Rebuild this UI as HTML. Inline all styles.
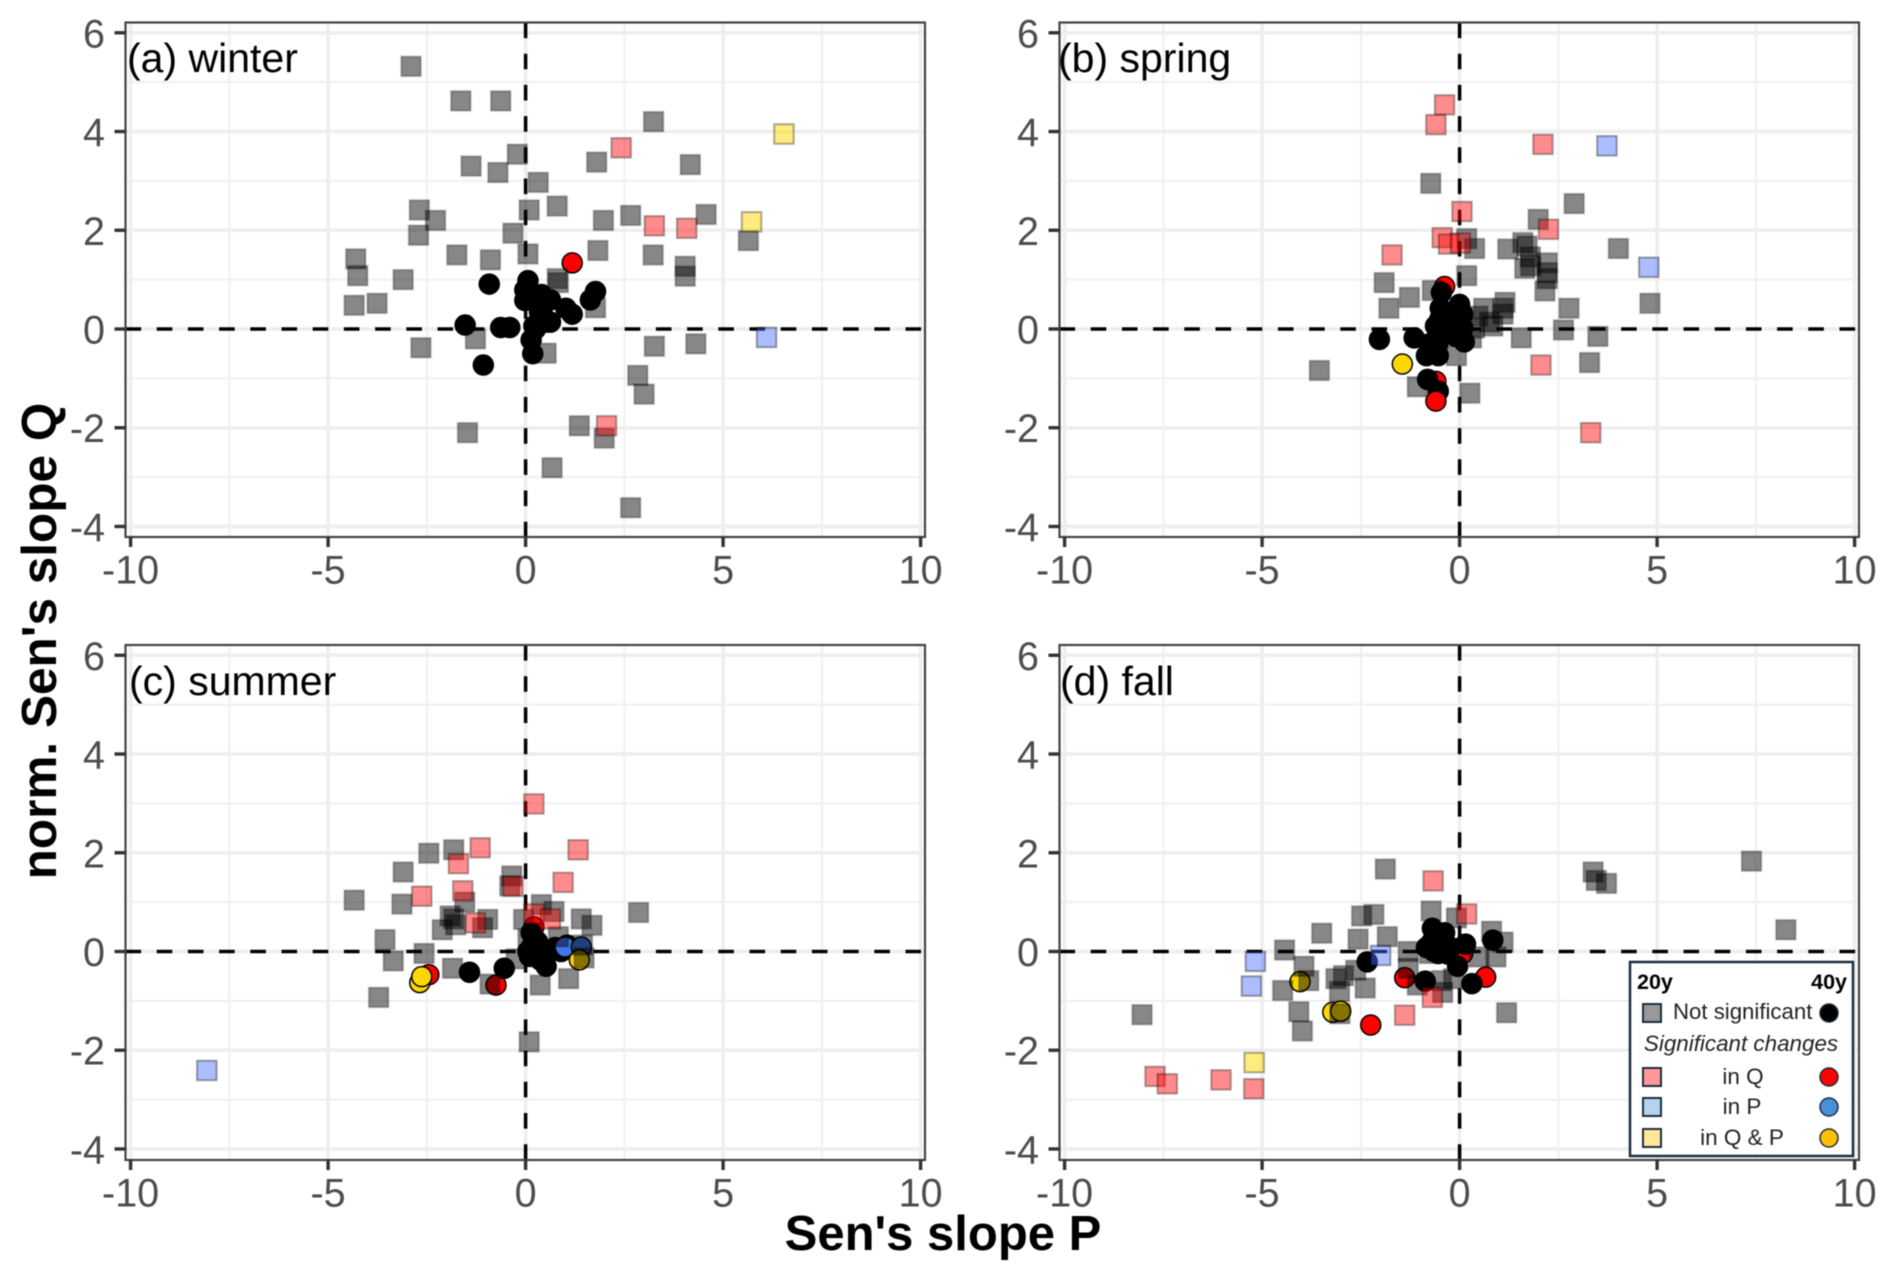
<!DOCTYPE html>
<html lang="en">
<head>
<meta charset="utf-8">
<title>Sen's slope scatter panels</title>
<style>
html,body{margin:0;padding:0;background:#fff;}
svg{display:block;font-family:"Liberation Sans",Arial,sans-serif;filter:blur(0.5px);}
</style>
</head>
<body>
<svg id="chart" xmlns="http://www.w3.org/2000/svg" width="1892" height="1279" viewBox="0 0 1892 1279">
  <rect x="0" y="0" width="1892" height="1279" fill="#fff"/>
  <g id="panels"></g>
  <text transform="translate(56,641) rotate(-90)" text-anchor="middle" font-size="49.5" font-weight="bold" fill="#000">norm. Sen's slope Q</text>
  <text x="943" y="1250" text-anchor="middle" font-size="49" font-weight="bold" fill="#000">Sen's slope P</text>
  <g>
    <rect x="1630" y="962" width="223" height="194" fill="#fff" stroke="#1c2e3e" stroke-width="2.5"/>
    <text x="1637" y="989" font-size="21.5" font-weight="bold">20y</text>
    <text x="1847" y="989" text-anchor="end" font-size="21.5" font-weight="bold">40y</text>
    <rect x="1643" y="1004" width="18" height="18" fill="#999" stroke="#1c2e3e" stroke-width="2"/>
    <text x="1673" y="1019" font-size="22.2" fill="#222">Not significant</text>
    <circle cx="1829" cy="1013" r="9" fill="#000" stroke="#1c2e3e" stroke-width="1.5"/>
    <text x="1741" y="1051" text-anchor="middle" font-size="22.4" font-style="italic" fill="#222">Significant changes</text>
    <rect x="1643" y="1068" width="18" height="18" fill="#ff9999" stroke="#1c2e3e" stroke-width="2"/>
    <text x="1743" y="1084" text-anchor="middle" font-size="22.5" fill="#222">in Q</text>
    <circle cx="1829" cy="1077" r="9" fill="#ff0000" stroke="#1c2e3e" stroke-width="1.5"/>
    <rect x="1643" y="1098" width="18" height="18" fill="#b5d2f0" stroke="#1c2e3e" stroke-width="2"/>
    <text x="1742" y="1114" text-anchor="middle" font-size="22.5" fill="#222">in P</text>
    <circle cx="1829" cy="1107" r="9" fill="#4a90d9" stroke="#1c2e3e" stroke-width="1.5"/>
    <rect x="1643" y="1129" width="18" height="18" fill="#ffe699" stroke="#1c2e3e" stroke-width="2"/>
    <text x="1742" y="1145" text-anchor="middle" font-size="22.5" fill="#222">in Q &amp; P</text>
    <circle cx="1829" cy="1138" r="9" fill="#ffc000" stroke="#1c2e3e" stroke-width="1.5"/>
  </g>
</svg>
<script>
// Axis tick values
var xMajorTicks = [-10, -5, 0, 5, 10];
var xMinorTicks = [-7.5, -2.5, 2.5, 7.5];
var yMajorTicks = [-4, -2, 0, 2, 4, 6];
var yMinorTicks = [-3, -1, 1, 3, 5];

// (a) winter
var winterGray20 = [[-2.90,5.32],[-1.64,4.62],[-0.63,4.62],[3.24,4.2],[-0.21,3.54],[1.80,3.38],[4.17,3.33],[-1.38,3.30],[-0.70,3.17],[0.32,2.97],[0.80,2.49],[-2.69,2.41],[0.09,2.41],[-2.28,2.2],[1.97,2.2],[2.66,2.3],[4.57,2.32],[-2.71,1.9],[-0.32,1.94],[5.64,1.79],[-1.74,1.5],[0.06,1.52],[-0.89,1.4],[1.83,1.59],[3.23,1.5],[-4.3,1.42],[-4.25,1.08],[-3.1,1.0],[4.04,1.27],[4.04,1.07],[0.8,1.02],[0.83,0.94],[1.77,0.43],[-4.34,0.48],[-3.76,0.52],[-1.27,-0.2],[-2.65,-0.38],[0.52,-0.49],[3.26,-0.35],[4.31,-0.3],[2.84,-0.94],[3.0,-1.32],[-1.47,-2.1],[1.36,-1.96],[1.99,-2.21],[0.67,-2.81],[2.66,-3.62]];
var winterQ20 = [[2.42,3.67],[3.26,2.09],[4.08,2.04],[2.05,-1.96]];
var winterP20 = [[6.1,-0.17]];
var winterQP20 = [[6.54,3.95],[5.72,2.17]];
var winterGray40 = [[-0.92,0.91],[0.06,0.98],[-0.02,0.79],[0.14,0.7],[-0.02,0.58],[0.4,0.7],[0.63,0.59],[1.77,0.76],[1.64,0.59],[1.02,0.42],[1.18,0.3],[-1.53,0.08],[-0.63,0.03],[-0.4,0.03],[0.44,0.26],[0.52,0.14],[0.21,0.06],[0.63,0.14],[0.14,-0.22],[0.18,-0.5],[-1.07,-0.73],[0.35,0.35],[0.25,0.0]];
var winterQ40 = [[1.18,1.34]];

// (b) spring
var springGray20 = [[-0.73,2.95],[2.9,2.54],[1.99,2.22],[0.18,1.83],[0.38,1.63],[1.22,1.62],[1.6,1.75],[1.71,1.68],[4.02,1.63],[1.79,1.46],[2.22,1.34],[1.65,1.23],[1.8,1.28],[2.22,1.14],[2.22,1.02],[0.18,1.08],[2.16,0.77],[-1.91,0.94],[-0.69,0.78],[-1.27,0.64],[-1.79,0.42],[2.77,0.42],[4.82,0.52],[0.61,0.42],[1.15,0.54],[1.1,0.42],[1.1,0.3],[0.46,0.26],[0.76,0.14],[0.38,0.02],[0.84,0.06],[2.63,-0.02],[1.56,-0.18],[0.3,-0.18],[3.5,-0.15],[3.29,-0.68],[-0.08,-0.54],[-3.55,-0.84],[-1.07,-1.17],[0.26,-1.3]];
var springQ20 = [[-0.38,4.54],[-0.6,4.14],[2.11,3.74],[0.06,2.38],[2.25,2.02],[-0.44,1.85],[-0.28,1.72],[0.02,1.74],[-1.71,1.5],[2.06,-0.73],[3.32,-2.1]];
var springP20 = [[3.73,3.71],[4.79,1.25]];
var springQ40Under = [[-0.38,0.86],[-0.6,-1.06]];
var springGray40 = [[-2.03,-0.21],[-1.15,-0.18],[-0.46,0.74],[-0.49,0.42],[0,0.5],[0.08,0.3],[-0.61,0.06],[-0.3,0.1],[-0.23,0.34],[-0.38,-0.1],[0.08,0.02],[0.12,-0.26],[-0.84,-0.54],[-0.54,-0.54],[-0.81,-1.02],[-0.54,-1.26],[-0.76,-0.3],[-0.35,0.2],[-0.15,0.15],[-0.2,-0.05],[-0.05,0.15],[-0.5,0.2],[-0.1,-0.15],[-0.55,-0.3]];
var springQ40Over = [[-0.6,-1.46]];
var springQP40 = [[-1.45,-0.71]];

// (c) summer
var summerGray20 = [[-2.45,1.99],[-1.82,2.06],[-3.1,1.61],[-4.34,1.04],[-3.13,0.96],[-0.35,1.53],[-0.4,1.33],[-1.54,1.0],[-1.91,0.72],[-1.82,0.66],[-2.11,0.44],[-1.77,0.54],[-0.96,0.65],[-1.09,0.48],[0.4,0.95],[0.72,0.81],[-0.05,0.65],[1.41,0.66],[1.68,0.53],[2.86,0.79],[-3.56,0.24],[-2.57,-0.04],[-3.35,-0.19],[0.06,0.25],[0.83,0.3],[1.44,0.13],[-1.85,-0.34],[-0.9,-0.66],[-3.72,-0.93],[-0.24,-0.15],[0.37,-0.68],[1.09,-0.55],[1.48,-0.13],[0.09,-1.83]];
var summerQ20 = [[0.21,2.99],[-1.15,2.1],[1.33,2.06],[-1.7,1.78],[0.95,1.4],[-1.59,1.23],[-2.63,1.12],[-0.32,1.32],[-1.27,0.58],[0.21,0.76],[0.63,0.66]];
var summerP20 = [[-8.07,-2.41]];
var summerQ40 = [[-2.45,-0.47],[-0.75,-0.68],[0.21,0.5]];
var summerGray40 = [[0.14,0.38],[0.21,0.21],[0.06,0],[0.21,-0.08],[0.37,-0.17],[0.52,-0.3],[0.75,0.08],[0.9,0],[-1.42,-0.42],[-0.54,-0.34],[1.05,0.13],[0.3,0.0],[0.35,-0.1],[0.45,-0.2],[0.15,0.1],[0.3,0.2],[0.55,-0.05],[0.1,-0.1]];
var summerP40 = [[1.0,0.09],[1.41,0.09]];
var summerQP40 = [[-2.68,-0.63],[-2.63,-0.51],[1.36,-0.17]];

// (d) fall
var fallGray20 = [[-1.88,1.67],[3.38,1.61],[3.46,1.44],[3.72,1.38],[7.39,1.83],[8.26,0.44],[-2.48,0.72],[-2.17,0.75],[-0.72,0.82],[-0.08,0.68],[-3.49,0.37],[-2.57,0.25],[-1.83,0.3],[0.81,0.41],[1.1,0.19],[-4.43,0.03],[-1.3,0],[-0.76,-0.04],[0.49,-0.11],[0.92,-0.11],[-3.94,-0.3],[-3.82,-0.59],[-4.48,-0.79],[-3.13,-0.55],[-2.94,-0.49],[-2.63,-0.38],[-3.04,-0.81],[-2.39,-0.74],[-1.3,-0.34],[-1.07,-0.68],[-0.46,-0.59],[-0.43,-0.83],[-0.15,-0.55],[-8.04,-1.28],[-4.07,-1.22],[-3.98,-1.61],[-3.03,-1.26],[1.19,-1.24]];
var fallQ20 = [[-0.67,1.43],[0.18,0.76],[-0.69,-0.93],[-1.39,-1.29],[-7.71,-2.53],[-7.4,-2.68],[-6.04,-2.6],[-5.21,-2.78]];
var fallP20 = [[-5.17,-0.2],[-5.27,-0.7],[-2.0,-0.08]];
var fallQP20 = [[-5.2,-2.25]];
var fallQ40 = [[0.08,-0.04],[0.66,-0.52],[-1.39,-0.53],[-2.25,-1.49]];
var fallGray40 = [[-0.69,0.47],[-0.38,0.38],[-0.84,0.08],[-0.54,0.17],[-0.54,-0.04],[-0.23,0.08],[0.15,0.15],[0.84,0.23],[-0.05,-0.3],[-2.34,-0.21],[-0.87,-0.6],[0.31,-0.65],[-0.7,0.2],[-0.35,0.15],[-0.65,0.0],[-0.3,-0.05]];
var fallQP40 = [[-4.04,-0.61],[-3.21,-1.23],[-3.01,-1.21]];

var SVGNS = 'http://www.w3.org/2000/svg';
var GEOM = {left:125.5, width:799.5, x0:525.6, xScale:39.5, sy:49.37};

var squareStyles = {
  gray: {fill:'rgba(0,0,0,0.47)', stroke:'rgba(0,0,0,0.25)'},
  q:    {fill:'rgba(255,0,0,0.45)', stroke:'rgba(0,0,0,0.32)'},
  p:    {fill:'rgba(70,110,255,0.45)', stroke:'rgba(0,0,0,0.35)'},
  qp:   {fill:'rgba(255,215,0,0.5)', stroke:'rgba(0,0,0,0.32)'}
};
var circleFills = {gray:'#000000', q:'#ff0000', p:'#3f78e6', qp:'#ffd700'};

var panels = [
  {name:'winter', title:'(a) winter', dx:0, top:22.5, bottom:537, y0:329, tx:127, ty:72,
   circles:[['q',winterQ40],['gray',winterGray40]],
   squares:[['gray',winterGray20],['q',winterQ20],['p',winterP20],['qp',winterQP20]]},
  {name:'spring', title:'(b) spring', dx:934, top:22.5, bottom:537, y0:329, tx:1058, ty:72,
   circles:[['q',springQ40Under],['gray',springGray40],['q',springQ40Over],['qp',springQP40]],
   squares:[['gray',springGray20],['q',springQ20],['p',springP20]]},
  {name:'summer', title:'(c) summer', dx:0, top:645, bottom:1160, y0:951.5, tx:129, ty:695,
   circles:[['q',summerQ40],['gray',summerGray40],['p',summerP40],['qp',summerQP40]],
   squares:[['gray',summerGray20],['q',summerQ20],['p',summerP20]]},
  {name:'fall', title:'(d) fall', dx:934, top:645, bottom:1160, y0:951.5, tx:1060, ty:695,
   circles:[['q',fallQ40],['gray',fallGray40],['qp',fallQP40]],
   squares:[['gray',fallGray20],['q',fallQ20],['p',fallP20],['qp',fallQP20]]}
];

function mk(tag, attrs, parent) {
  var el = document.createElementNS(SVGNS, tag);
  for (var k in attrs) { el.setAttribute(k, attrs[k]); }
  parent.appendChild(el);
  return el;
}

function xPos(panel, v) { return GEOM.x0 + panel.dx + v * GEOM.xScale; }
function yPos(panel, v) { return panel.y0 - v * GEOM.sy; }

function drawPanel(panel) {
  var root = document.getElementById('panels');
  var g = mk('g', {}, root);
  
  
  var left = GEOM.left + panel.dx;
  var right = left + GEOM.width;

  xMinorTicks.forEach(function (t) {
    var l = mk('line', {x1:xPos(panel,t), x2:xPos(panel,t), y1:panel.top, y2:panel.bottom, stroke:'#f0f0f0', 'stroke-width':2}, g);
    
    
  });
  yMinorTicks.forEach(function (t) {
    var l = mk('line', {x1:left, x2:right, y1:yPos(panel,t), y2:yPos(panel,t), stroke:'#f0f0f0', 'stroke-width':2}, g);
    
    
  });
  xMajorTicks.forEach(function (t) {
    var l = mk('line', {x1:xPos(panel,t), x2:xPos(panel,t), y1:panel.top, y2:panel.bottom, stroke:'#eeeeee', 'stroke-width':3.5}, g);
    
    
  });
  yMajorTicks.forEach(function (t) {
    var l = mk('line', {x1:left, x2:right, y1:yPos(panel,t), y2:yPos(panel,t), stroke:'#eeeeee', 'stroke-width':3.5}, g);
    
    
  });

  var hz = mk('line', {x1:left, x2:right, y1:yPos(panel,0), y2:yPos(panel,0), stroke:'#000', 'stroke-width':3.5, 'stroke-dasharray':'15.6 15.6'}, g);
  
  
  var vt = mk('line', {x1:xPos(panel,0), x2:xPos(panel,0), y1:panel.top, y2:panel.bottom, stroke:'#000', 'stroke-width':3.5, 'stroke-dasharray':'15.6 15.6'}, g);
  
  

  panel.circles.forEach(function (s) {
    s[1].forEach(function (d) {
      var c = mk('circle', {cx:xPos(panel,d[0]), cy:yPos(panel,d[1]), r:10, fill:circleFills[s[0]], stroke:'#000', 'stroke-width':1.5}, g);
      
      
    });
  });

  panel.squares.forEach(function (s) {
    s[1].forEach(function (d) {
      var st = squareStyles[s[0]];
      var r = mk('rect', {x:xPos(panel,d[0]) - 9.75, y:yPos(panel,d[1]) - 9.75, width:19.5, height:19.5, fill:st.fill, stroke:st.stroke, 'stroke-width':2}, g);
      
      
    });
  });

  var border = mk('rect', {x:left, y:panel.top, width:GEOM.width, height:panel.bottom - panel.top, fill:'none', stroke:'#444', 'stroke-width':2.2}, g);
  
  

  xMajorTicks.forEach(function (t) {
    var m = mk('line', {x1:xPos(panel,t), x2:xPos(panel,t), y1:panel.bottom, y2:panel.bottom + 10, stroke:'#333', 'stroke-width':3.4}, g);
    
    
    var lab = mk('text', {x:xPos(panel,t), y:panel.bottom + 46.5, 'text-anchor':'middle', 'font-size':39.5, fill:'#4d4d4d'}, g);
    
    
    lab.textContent = String(t);
  });
  yMajorTicks.forEach(function (t) {
    var m = mk('line', {x1:left - 11, x2:left, y1:yPos(panel,t), y2:yPos(panel,t), stroke:'#333', 'stroke-width':3.4}, g);
    
    
    var lab = mk('text', {x:left - 20.5, y:yPos(panel,t) + 14.5, 'text-anchor':'end', 'font-size':39.5, fill:'#4d4d4d'}, g);
    
    
    lab.textContent = String(t);
  });

  var title = mk('text', {x:panel.tx, y:panel.ty, 'font-size':41, fill:'#000'}, g);
  
  
  title.textContent = panel.title;
}

panels.forEach(drawPanel);
</script>
</body>
</html>
